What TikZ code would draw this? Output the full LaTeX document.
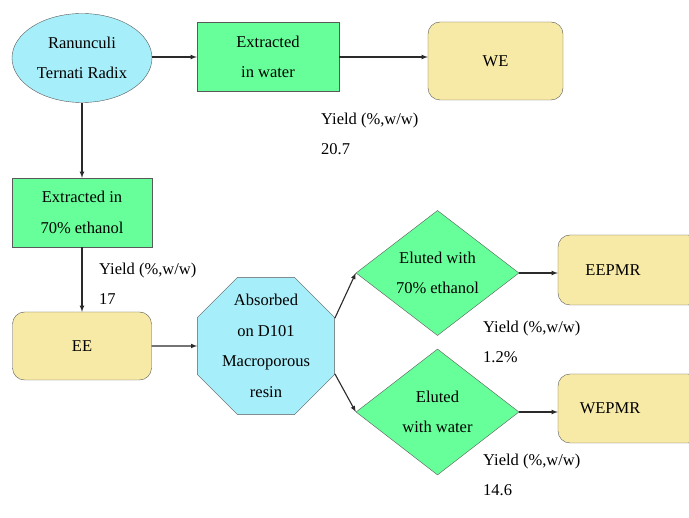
\documentclass[tikz,border=0pt]{standalone}
\usepackage{fontspec}
\setmainfont{Liberation Serif}
\usetikzlibrary{shapes.geometric}
\definecolor{cyanfill}{HTML}{A6EEF9}
\definecolor{greenfill}{HTML}{66FF99}
\definecolor{yellowfill}{HTML}{F7E9A6}
\definecolor{edgegray}{HTML}{5A5A5A}
\definecolor{arrowgray}{HTML}{2A2A2A}
\begin{document}
\begin{tikzpicture}[x=1pt,y=-1pt]
\tikzstyle{every node}+=[font=\fontsize{16.5}{30.5}\selectfont, inner sep=0pt, align=center]
\tikzstyle{greenbox}=[draw=edgegray, fill=greenfill, minimum width=142pt, minimum height=69pt]
\tikzstyle{yellowbox}=[draw=edgegray, fill=yellowfill, rounded corners=12pt]
\tikzstyle{yieldtext}=[anchor=west, align=left, font=\fontsize{16.5}{30}\selectfont]
\tikzstyle{arr}=[draw=arrowgray, line width=1.1pt, ->, >=latex]
\fill [white] (0,0) rectangle (689,518);
\useasboundingbox (0,0) rectangle (689,518);
% top row
\node [ellipse, draw=edgegray, fill=cyanfill, minimum width=140pt, minimum height=89pt] (radix) at (82,58) {Ranunculi\\Ternati Radix};
\node [greenbox] (water) at (268,57) {Extracted\\in water};
\node [yellowbox, minimum width=135pt, minimum height=78pt] (we) at (495.5,61) {WE};
\node [yieldtext] (yieldwe) at (321,134) {Yield (\%,w/w)\\20.7};
% left column
\node [greenbox, minimum width=140pt] (ethanol) at (82,212.5) {Extracted in\\70\% ethanol};
\node [yieldtext] (yieldee) at (99,284) {Yield (\%,w/w)\\17};
\node [yellowbox, minimum width=139pt, minimum height=68pt] (ee) at (82,346) {EE};
% resin and elution
\node [regular polygon, regular polygon sides=8, draw=edgegray, fill=cyanfill, inner sep=-3pt, minimum size=144pt] (resin) at (266,346) {Absorbed\\on D101\\Macroporous\\resin};
\node [diamond, draw=edgegray, fill=greenfill, minimum width=163pt, minimum height=125pt] (elueth) at (437.5,273) {Eluted with\\70\% ethanol};
\node [diamond, draw=edgegray, fill=greenfill, minimum width=163pt, minimum height=126pt] (eluwat) at (437.5,412) {Eluted\\with water};
\node [yellowbox, minimum width=142pt, minimum height=70pt] (eepmr) at (629,270) {};
\node (eepmrtext) at (613,270) {EEPMR};
\node [yellowbox, minimum width=142pt, minimum height=69pt] (wepmr) at (629,408.5) {};
\node (wepmrtext) at (610,408.5) {WEPMR};
\node [yieldtext] (yieldeepmr) at (483,342) {Yield (\%,w/w)\\1.2\%};
\node [yieldtext] (yieldwepmr) at (483,475) {Yield (\%,w/w)\\14.6};
% connectors
\draw [arr] (radix.east |- water.west) -- (water.west);
\draw [arr] (water.east) -- (water.east -| we.west);
\draw [arr] (radix.south) -- (ethanol.north);
\draw [arr] (ethanol.south) -- (ee.north);
\draw [arr] (ee.east) -- (resin.west);
\draw [arr] (resin.22.5) -- (elueth.west);
\draw [arr] (resin.-22.5) -- (eluwat.west);
\draw [arr] (elueth.east) -- (elueth.east -| eepmr.west);
\draw [arr] (eluwat.east) -- (eluwat.east -| wepmr.west);
\end{tikzpicture}
\end{document}
